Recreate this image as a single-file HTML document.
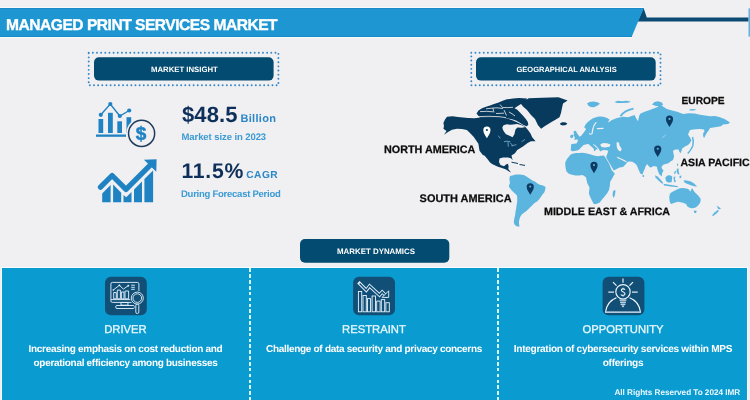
<!DOCTYPE html>
<html><head><meta charset="utf-8">
<style>
*{margin:0;padding:0;box-sizing:border-box}
html,body{width:750px;height:400px;overflow:hidden;background:#f0eff1;font-family:"Liberation Sans",sans-serif;text-rendering:geometricPrecision}
.t{position:absolute;white-space:nowrap;line-height:1;font-weight:bold}
.btn{position:absolute;background:#0d4a75;border-radius:5px}
.lab{color:#0c0c0c;-webkit-text-stroke:0.25px #0c0c0c}
#pb{position:absolute;left:1px;top:266.6px;width:747px;height:133.4px;background:#f6fdff}
#panel{position:absolute;left:2px;top:267.5px;width:745px;height:132px;background:#0a9bd0}
.col{position:absolute;top:0;height:131px;text-align:center;color:#fff}
.h{position:absolute;left:0;right:0;top:57px;font-size:11.25px;color:#e8f8ff;line-height:1;font-weight:normal;-webkit-text-stroke:0.3px #e8f8ff}
.d{position:absolute;left:0;right:0;top:75.1px;font-size:10px;letter-spacing:-0.3px;font-weight:bold;color:#fff;line-height:14px}
.dash{position:absolute;top:0;width:2px;height:132px;background:repeating-linear-gradient(to bottom,transparent 0,transparent 0.4px,#d8fbff 0.4px,#d8fbff 4px,transparent 4px,transparent 5.85px)}
svg{position:absolute;left:0;top:0}
</style></head><body>
<div id="wrap" style="position:absolute;left:0;top:0;width:750px;height:400px;will-change:transform">
<svg width="750" height="400" viewBox="0 0 750 400">
  <!-- header -->
  <rect x="0" y="7" width="644" height="1" fill="#f8fbfd"/>
  <rect x="0" y="37" width="632" height="1" fill="#f6fafd"/>
  <polygon points="643.6,8 646.8,17.6 748.5,17.6 748.5,21.4 637.6,21.4" fill="#0b4a72"/>
  <polygon points="0,8 643.8,8 631.6,37 0,37" fill="#1e96d2"/>
  <rect x="0" y="8" width="643.6" height="0.8" fill="#1a88c4"/>
  <rect x="0" y="36.2" width="632" height="0.8" fill="#1a88c4"/>
  <rect x="748.6" y="8.4" width="1.2" height="28.2" fill="#3aa6e0"/>
  <!-- dotted boxes -->
  <rect x="88.7" y="52.7" width="189.7" height="32.6" fill="none" stroke="#2f86c9" stroke-width="1.9" stroke-linecap="round" stroke-dasharray="0 4.15"/>
  <rect x="471.3" y="52.7" width="189.2" height="32.6" fill="none" stroke="#2f86c9" stroke-width="1.9" stroke-linecap="round" stroke-dasharray="0 4.15"/>
  <rect x="94" y="57.2" width="179.6" height="23.4" rx="5" fill="#034b70"/>
  <rect x="476" y="57.2" width="179.7" height="23.4" rx="5" fill="#034b70"/>
  <rect x="300" y="239" width="149.3" height="23.7" rx="5" fill="#034b70"/>

  <!-- icon 1: bar chart + dollar -->
  <g fill="#1f82c3">
    <rect x="96" y="134.5" width="30" height="2.3"/>
    <rect x="98.5" y="119" width="4.7" height="14"/>
    <rect x="108" y="112.8" width="4.8" height="20.2"/>
    <rect x="117.3" y="121.3" width="4.7" height="11.7"/>
    <rect x="126.5" y="117.2" width="4.7" height="15.8"/>
  </g>
  <polyline points="100.8,114.8 110.3,104 119.8,116 129.2,110.5" fill="none" stroke="#1f82c3" stroke-width="1.4"/>
  <g fill="#1f82c3"><circle cx="100.8" cy="114.8" r="2.1"/><circle cx="110.3" cy="104" r="2.1"/><circle cx="119.8" cy="116" r="2.1"/><circle cx="129.2" cy="110.5" r="2.1"/></g>
  <circle cx="141.6" cy="133.4" r="15.3" fill="#f0eff1"/>
  <circle cx="141.6" cy="133.4" r="13.05" fill="none" stroke="#1d3b5a" stroke-width="1.5"/>
  <text x="141.1" y="139.6" font-family="Liberation Sans" font-weight="bold" font-size="19" fill="#1f82c3" stroke="#1f82c3" stroke-width="0.5" text-anchor="middle">$</text>

  <!-- icon 2: growth -->
  <g fill="#1f82c3">
    <polygon points="102.2,193.5 110.6,185.1 110.6,202.3 102.2,202.3"/>
    <polygon points="113.1,184.6 121.2,192.7 121.2,202.3 113.1,202.3"/>
    <polygon points="123.5,195 126.2,197.3 131.5,192 131.5,202.3 123.5,202.3"/>
    <polygon points="134,189.5 142,181.5 142,202.3 134,202.3"/>
    <polygon points="144.4,179.1 153.1,170.4 153.1,202.3 144.4,202.3"/>
  </g>
  <polyline points="100.5,187.1 112.1,175.5 126,189.4 150.5,164.9" fill="none" stroke="#1f82c3" stroke-width="5.3" stroke-linecap="round" stroke-linejoin="round"/>
  <polygon points="143.9,159.7 156.6,159.3 156.3,171.8" fill="#1f82c3"/>

  <polygon points="443.4,123.0 445.0,119.5 447.0,116.7 452.6,116.3 458.0,117.0 463.0,117.5 468.0,118.0 474.5,118.2 480.0,117.5 488.0,117.2 496.0,117.3 503.0,117.8 508.0,118.8 513.0,120.5 517.0,122.3 521.0,124.3 525.0,126.5 528.0,130.0 530.5,133.5 532.2,137.2 535.6,141.3 531.0,141.2 527.6,143.0 523.0,146.4 517.2,149.9 515.0,153.3 511.5,155.6 512.6,160.2 511.0,158.2 508.0,157.6 503.0,157.6 499.5,158.5 499.0,162.0 500.5,165.0 504.0,166.2 506.0,164.6 508.0,163.8 508.6,166.5 508.3,169.0 511.0,172.4 509.4,171.8 506.0,169.6 502.0,168.0 498.0,166.8 493.0,164.5 491.0,163.3 489.9,162.2 487.0,158.5 485.3,156.5 484.1,155.3 483.0,155.3 479.5,150.7 478.4,143.8 473.8,136.9 469.5,132.5 466.9,130.0 462.0,129.0 457.0,128.8 452.0,129.8 448.0,132.0 444.0,134.8 446.5,131.0 443.4,128.8 444.0,126.0" fill="#083a5d" />
<polygon points="520.7,103.5 528.7,98.3 542.3,97.7 558.4,97.2 567.6,100.6 563.0,103.5 562.0,108.0 561.0,113.0 559.5,117.3 555.0,120.0 551.5,121.9 545.0,126.0 541.1,128.8 538.0,125.3 535.0,119.0 531.0,115.0 527.0,110.0 523.0,106.5" fill="#083a5d" />
<polygon points="476.5,113.5 478.5,110.5 482.0,108.3 486.0,106.8 490.0,105.5 494.0,104.0 498.0,102.8 501.0,101.5 504.0,100.3 507.0,99.3 513.0,98.5 519.0,98.0 527.0,98.5 526.0,101.0 521.0,104.0 517.0,106.5 514.5,108.2 517.0,109.5 520.0,112.5 523.5,116.2 526.0,119.3 527.8,122.0 528.3,125.0 526.5,126.2 523.0,124.8 519.5,122.5 516.0,120.5 512.0,119.3 508.0,118.5 500.0,118.0 490.0,117.8 480.0,117.8" fill="#083a5d" />
<path d="M477,116.6 L489,116.3 L499,116.7 L506,117.6" stroke="#f0eff1" stroke-width="0.8" fill="none"/>
<path d="M480,111.6 Q487,111 493,111.8" stroke="#f0eff1" stroke-width="0.8" fill="none"/>
<path d="M492.8,108 L494,112.5" stroke="#f0eff1" stroke-width="0.8" fill="none"/>
<path d="M486,108.8 Q492,108 497,107.8 L503,108.5" stroke="#f0eff1" stroke-width="0.8" fill="none"/>
<path d="M500,104.5 L502.5,107.5 M502.5,107.5 Q508,107.8 513,107.3" stroke="#f0eff1" stroke-width="0.8" fill="none"/>
<path d="M504,110 L506.5,115.5" stroke="#f0eff1" stroke-width="0.8" fill="none"/>
<path d="M496,113.5 L504,113.2" stroke="#f0eff1" stroke-width="0.8" fill="none"/>
<path d="M509,112 Q512,113.5 515,116" stroke="#f0eff1" stroke-width="0.8" fill="none"/>
<polygon points="502.3,127.5 503.5,125.3 506.9,124.3 510.0,124.8 513.0,124.5 517.0,124.0 521.0,125.0 525.5,127.0 522.0,127.8 517.5,127.5 515.5,129.5 515.0,131.5 514.5,134.0 512.6,137.2 509.0,135.5 506.0,134.2 504.6,132.6 503.0,130.0" fill="#f0eff1" />
<polygon points="560.0,123.5 562.0,122.3 565.0,122.3 567.3,123.5 566.0,125.0 562.5,125.4 560.5,124.8" fill="#083a5d" />
<polygon points="586.2,129.2 584.2,127.2 585.6,124.6 587.5,122.3 590.0,120.2 592.5,118.6 594.5,117.8 597.5,116.8 600.5,116.4 603.0,116.7 605.0,117.2 607.5,118.2 609.5,119.5 608.5,121.2 608.0,122.5 609.8,121.4 611.5,120.2 617.0,118.0 623.0,116.7 628.0,117.3 634.5,115.0 636.0,118.0 638.0,121.3 639.0,116.5 640.2,113.8 644.0,112.0 648.3,110.4 653.0,108.8 657.5,107.0 660.0,104.5 663.0,106.5 666.9,108.9 672.0,110.5 677.2,111.8 683.0,114.1 689.0,113.3 694.5,113.5 700.0,114.8 705.0,115.6 710.0,116.3 715.0,115.9 720.0,117.3 725.0,119.3 730.0,122.5 728.0,124.0 723.0,124.5 721.0,126.3 715.0,127.3 710.0,128.0 709.0,130.0 707.2,132.3 705.6,135.0 704.0,138.2 703.0,135.5 703.3,133.0 704.6,131.0 703.8,129.5 700.0,129.0 695.0,129.3 690.0,130.0 688.0,134.6 690.0,137.5 691.4,140.3 690.0,143.0 688.0,145.0 685.0,146.5 682.2,148.4 681.5,151.0 680.5,153.2 679.2,151.5 678.7,149.5 675.3,149.5 673.0,150.7 673.5,153.5 674.1,156.4 673.0,159.9 670.5,161.5 668.4,163.3 663.8,164.5 662.0,166.0 661.5,167.9 663.5,170.5 662.0,173.5 661.8,176.5 659.5,174.5 658.3,172.0 657.3,169.0 656.9,166.8 653.8,166.0 651.0,167.5 649.5,167.0 647.1,164.1 645.5,166.5 644.8,168.7 643.5,171.5 642.5,174.5 641.0,174.0 640.2,173.3 638.5,169.5 636.8,165.3 634.5,163.0 632.2,161.8 629.5,161.5 627.6,161.8 625.5,164.5 623.0,167.0 619.5,167.6 616.5,169.0 613.8,170.5 610.0,164.0 606.3,157.8 606.6,155.5 607.5,153.5 608.2,150.8 606.5,150.2 604.0,150.0 601.8,150.4 600.5,151.5 599.4,150.2 598.6,148.4 597.4,147.2 595.6,145.6 593.8,144.2 592.6,143.8 594.2,145.6 596.0,147.2 597.6,148.6 597.4,149.6 596.2,149.3 595.3,150.2 594.8,151.3 593.8,150.8 594.0,149.2 592.5,147.6 590.6,146.0 588.8,144.2 587.4,144.0 586.0,144.6 584.5,144.8 583.2,145.2 582.2,146.5 581.0,147.6 579.5,149.2 578.0,150.3 575.5,150.8 572.7,151.2 570.8,150.4 570.9,148.0 571.1,145.6 571.2,144.2 573.5,143.8 576.5,143.5 577.6,141.5 578.0,139.7 576.5,139.0 575.0,138.2 577.5,137.3 581.0,136.0 582.6,134.0 584.0,132.2 584.8,131.0 585.5,130.0" fill="#5cb5df" />
<polygon points="605.2,157.2 609.0,163.5 611.8,170.2 614.8,173.8 613.5,176.0 612.0,178.8 610.2,181.8 609.8,186.0 609.0,190.0 607.0,193.5 604.4,196.8 602.0,199.5 599.8,202.5 597.0,203.8 594.0,204.3 592.8,202.3 591.8,200.2 590.0,196.5 588.9,193.3 589.2,190.5 589.5,187.6 587.2,183.0 586.0,177.2 582.6,175.0 579.0,175.6 575.7,175.5 572.0,174.8 568.8,173.8 566.5,171.5 565.9,169.2 565.3,165.5 565.3,162.3 567.0,159.0 569.8,155.6 571.2,154.2 573.5,153.5 576.0,153.0 579.0,153.1 582.5,152.8 586.0,153.2 590.0,154.2 594.0,155.5 597.5,156.2 601.0,155.8 604.0,155.6" fill="#5cb5df" />
<polygon points="510.0,176.1 512.2,175.5 515.7,174.4 519.5,174.5 523.7,175.0 526.5,176.5 529.5,178.4 532.5,180.5 535.2,181.8 537.5,183.5 539.8,184.7 543.0,185.6 545.6,187.0 545.2,189.5 544.4,192.2 542.5,194.5 541.0,196.8 539.0,199.6 537.0,201.5 534.5,203.0 532.0,205.5 530.0,207.6 528.0,209.5 526.4,211.1 524.0,212.8 521.8,214.5 520.3,216.8 519.5,219.1 519.0,221.5 519.0,223.7 519.5,226.6 517.5,226.6 516.1,226.0 514.5,224.5 513.8,222.6 514.2,219.0 515.0,215.7 515.5,212.0 516.1,208.8 516.6,205.0 517.2,201.9 517.2,198.0 517.0,195.5 515.0,193.5 512.2,191.0 510.2,188.5 508.8,186.4 509.3,184.5 510.0,183.0 509.5,180.0 509.5,178.0" fill="#5cb5df" />
<polygon points="669.9,193.7 672.0,192.0 675.0,190.5 678.0,189.1 680.0,188.3 682.5,188.0 685.0,188.3 688.3,189.1 689.5,190.5 690.6,191.4 691.2,189.5 692.0,188.2 693.0,189.5 693.8,191.1 695.5,193.0 697.2,194.5 699.0,196.5 700.7,199.1 700.5,201.5 699.5,203.7 698.0,205.5 696.1,207.2 694.0,208.0 691.5,208.3 689.0,207.5 686.9,206.0 686.5,204.5 685.0,203.5 682.0,202.5 678.0,201.8 674.5,202.8 671.0,204.0 670.0,202.5 669.5,200.0 669.3,197.0" fill="#5cb5df" />
<polygon points="600.2,144.5 603.0,143.0 607.0,143.2 610.6,144.5 609.5,146.8 605.0,147.6 601.5,147.0" fill="#f0eff1" />
<polygon points="616.5,142.3 619.0,142.5 619.5,145.5 621.8,149.0 620.5,151.5 618.0,150.0 616.8,147.0" fill="#f0eff1" />
<path d="M596,122.6 Q593.5,125.5 593,128.5 Q592.4,131 592.2,133 M597.3,128.6 L603,128.4 M589.5,133.8 Q591,134.6 592.2,133.4" stroke="#f0eff1" stroke-width="1.2" fill="none" stroke-linecap="round"/>
<path d="M617.2,157.2 L622,159.5 L626.4,161.8" stroke="#f0eff1" stroke-width="1.2" fill="none"/>
<polygon points="574.0,131.0 576.0,130.8 576.6,132.6 577.8,134.2 579.0,136.0 579.4,137.8 578.2,139.0 575.5,139.8 574.0,139.4 575.0,138.0 574.2,136.6 573.4,135.0 574.2,133.5 573.4,132.2" fill="#5cb5df" />
<polygon points="570.3,135.5 572.2,134.4 573.3,135.6 573.0,137.6 571.0,138.3 570.2,137.0" fill="#5cb5df" />
<polygon points="587.0,103.6 589.5,102.0 593.5,101.5 597.5,102.3 600.0,103.8 597.5,105.6 594.0,107.3 590.5,107.0 588.3,105.6" fill="#5cb5df" />
<polygon points="614.5,102.0 618.0,100.8 622.0,101.2 626.0,100.7 631.0,101.5 628.0,102.8 622.0,102.9 617.0,103.0" fill="#5cb5df" />
<polygon points="652.0,104.5 654.5,102.0 658.0,101.3 662.0,102.6 663.0,105.0 660.0,106.2 656.0,106.0" fill="#5cb5df" />
<polygon points="689.0,109.8 692.0,109.0 696.5,109.5 694.0,110.6 690.0,110.6" fill="#5cb5df" />
<path d="M620.5,116.2 Q624,110.5 633.5,108.6" stroke="#5cb5df" stroke-width="1.9" fill="none"/>
<path d="M687.8,153.5 Q691,150 692.8,146 Q694,141 692.5,136.9" stroke="#5cb5df" stroke-width="1.5" fill="none"/>
<polygon points="613.0,191.5 614.5,189.8 615.5,191.0 614.8,195.5 613.5,198.0 612.6,195.0" fill="#5cb5df" />
<circle cx="643.3" cy="176" r="0.9" fill="#5cb5df"/>
<polygon points="655.0,175.3 657.5,176.5 660.0,179.0 663.0,182.5 662.5,184.0 659.0,181.0 655.5,177.5" fill="#5cb5df" />
<polygon points="663.5,183.8 668.0,184.5 673.0,185.2 678.0,186.3 677.5,187.3 671.0,186.6 664.0,185.5" fill="#5cb5df" />
<polygon points="665.3,177.5 667.5,175.5 670.0,175.3 672.2,176.5 672.0,179.5 671.5,182.2 668.0,182.5 666.0,181.0" fill="#5cb5df" />
<polygon points="673.5,177.0 675.5,176.5 674.8,179.0 676.0,181.5 674.5,182.5 673.8,180.0" fill="#5cb5df" />
<polygon points="676.8,169.0 678.5,168.3 678.7,171.5 679.5,174.8 677.8,174.0 676.5,171.5" fill="#5cb5df" />
<polygon points="677.2,163.5 678.2,163.8 678.0,166.0 677.0,165.8" fill="#5cb5df" />
<polygon points="674.5,171.5 676.0,170.8 675.6,173.5 674.2,174.2" fill="#5cb5df" />
<polygon points="679.5,176.0 681.5,175.5 681.0,178.0 679.6,178.3" fill="#5cb5df" />
<polygon points="683.4,180.2 686.5,180.5 690.3,181.3 693.5,183.0 697.2,186.5 694.0,186.2 691.0,185.2 687.5,184.0 684.5,182.5" fill="#5cb5df" />
<polygon points="693.8,210.6 696.7,210.8 696.0,213.0 694.3,213.0" fill="#5cb5df" />
<polygon points="716.5,205.5 718.0,206.5 720.8,208.2 720.0,209.3 718.2,209.0 717.4,207.3" fill="#5cb5df" />
<polygon points="718.0,209.8 718.8,211.0 716.5,213.5 713.2,216.0 712.0,215.2 714.5,212.5" fill="#5cb5df" />
<path d="M662.3,137.8 Q664,136.5 665.8,134.8" stroke="#a9d6ee" stroke-width="0.9" fill="none"/>
<path d="M504.3,141.6 Q507,140.6 510,141.6 M508,142 L508.3,146.3 M510.5,143 Q512,144 512.3,146 M512,145.6 L516,144.8 M498.5,136 L500,138" stroke="#6fa6c8" stroke-width="0.9" fill="none" stroke-linecap="round"/>
<path d="M521.4,141.8 L525,139.4" stroke="#6fa6c8" stroke-width="0.8" fill="none"/>
<path d="M511.5,162.2 L518,163.5 M519.5,164.5 L525,165.4" stroke="#083a5d" stroke-width="1" fill="none"/>
<g transform="translate(486.9,130.2)"><path d="M0,8 C-0.8,6 -3.6,3.4 -3.6,0 A3.6,3.6 0 1 1 3.6,0 C3.6,3.4 0.8,6 0,8 Z" fill="#ffffff"/><circle r="1.05" cy="-0.2" fill="#083a5d"/></g>
<g transform="translate(530.25,186.75)"><path d="M0,8 C-0.8,6 -3.6,3.4 -3.6,0 A3.6,3.6 0 1 1 3.6,0 C3.6,3.4 0.8,6 0,8 Z" fill="#0d3a62"/><circle r="1.05" cy="-0.2" fill="#5cb5df"/></g>
<g transform="translate(594,165.3)"><path d="M0,8 C-0.8,6 -3.6,3.4 -3.6,0 A3.6,3.6 0 1 1 3.6,0 C3.6,3.4 0.8,6 0,8 Z" fill="#0d3a62"/><circle r="1.05" cy="-0.2" fill="#5cb5df"/></g>
<g transform="translate(669.5,119.1)"><path d="M0,8 C-0.8,6 -3.6,3.4 -3.6,0 A3.6,3.6 0 1 1 3.6,0 C3.6,3.4 0.8,6 0,8 Z" fill="#0d3a62"/><circle r="1.05" cy="-0.2" fill="#5cb5df"/></g>
<g transform="translate(657.75,149)"><path d="M0,8 C-0.8,6 -3.6,3.4 -3.6,0 A3.6,3.6 0 1 1 3.6,0 C3.6,3.4 0.8,6 0,8 Z" fill="#0d3a62"/><circle r="1.05" cy="-0.2" fill="#5cb5df"/></g>
</svg>

<div class="t" style="left:6px;top:18px;font-size:15.6px;letter-spacing:-0.5px;color:#fff;-webkit-text-stroke:0.35px #fff">MANAGED PRINT SERVICES MARKET</div>
<div class="t" style="left:151px;top:66.3px;font-size:7.75px;color:#fff">MARKET INSIGHT</div>
<div class="t" style="left:516.5px;top:66.1px;font-size:7.5px;color:#fff">GEOGRAPHICAL ANALYSIS</div>
<div class="t" style="left:337px;top:247.9px;font-size:7.9px;color:#fff">MARKET DYNAMICS</div>

<div class="t" style="left:182px;top:103.6px;font-size:22px;letter-spacing:0.1px;color:#0d2f5a">$48.5</div>
<div class="t" style="left:240.5px;top:113.7px;font-size:11px;letter-spacing:0.3px;color:#2a86c8">Billion</div>
<div class="t" style="left:181.5px;top:132.9px;font-size:9.5px;letter-spacing:-0.08px;color:#3a9bd5">Market size in 2023</div>
<div class="t" style="left:181.5px;top:160.8px;font-size:21.2px;letter-spacing:0.72px;color:#0d2f5a">11.5%</div>
<div class="t" style="left:246.3px;top:170.9px;font-size:10.2px;letter-spacing:0.45px;color:#2a86c8">CAGR</div>
<div class="t" style="left:181px;top:189.5px;font-size:9.5px;letter-spacing:-0.25px;color:#3a9bd5">During Forecast Period</div>

<div class="t lab" style="left:384px;top:145.1px;font-size:10.8px">NORTH AMERICA</div>
<div class="t lab" style="left:419.6px;top:194.3px;font-size:10.95px">SOUTH AMERICA</div>
<div class="t lab" style="left:544px;top:206.8px;font-size:10.7px">MIDDLE EAST &amp; AFRICA</div>
<div class="t lab" style="left:681.5px;top:97.1px;font-size:10.2px">EUROPE</div>
<div class="t lab" style="left:680.5px;top:157.6px;font-size:10.55px">ASIA PACIFIC</div>

<div id="pb"></div>
<div id="panel">
  <div class="col" style="left:0;width:247px">
    <div class="h">DRIVER</div>
    <div class="d">Increasing emphasis on cost reduction and<br>operational efficiency among businesses</div>
  </div>
  <div class="dash" style="left:247px"></div>
  <div class="col" style="left:249px;width:246px">
    <div class="h">RESTRAINT</div>
    <div class="d">Challenge of data security and privacy concerns</div>
  </div>
  <div class="dash" style="left:495px"></div>
  <div class="col" style="left:497px;width:248px">
    <div class="h">OPPORTUNITY</div>
    <div class="d" style="font-size:10.1px;top:75.1px">Integration of cybersecurity services within MPS<br>offerings</div>
  </div>
  <div class="t" style="left:612.5px;top:121.1px;font-size:8.2px;letter-spacing:-0.04px;color:#eaf8ff">All Rights Reserved To 2024 IMR</div>
  <svg width="745" height="132" viewBox="2 267.5 745 132" style="left:0;top:0">
    <g fill="#114f77">
  <rect x="105" y="276.3" width="41.8" height="38.5" rx="6"/>
  <rect x="353.1" y="276.3" width="41.9" height="38.5" rx="6"/>
  <rect x="602.6" y="276.3" width="41.8" height="38.5" rx="6"/>
</g>
<g fill="none" stroke="#e8f4ff" stroke-width="0.9" stroke-linejoin="round">
  <!-- icon1 monitor -->
  <rect x="110.9" y="281.9" width="28" height="20" rx="1.5"/>
  <line x1="110.9" y1="299.1" x2="132" y2="299.1"/>
  <rect x="121" y="302" width="7" height="2.7"/>
  <rect x="115.7" y="305" width="18.8" height="3" rx="1.3"/>
  <rect x="113.7" y="292" width="2.6" height="6.3"/>
  <rect x="117.3" y="289.6" width="3.1" height="8.7"/>
  <rect x="121.4" y="291.5" width="2.6" height="6.8"/>
  <rect x="125" y="290.5" width="3.6" height="7.8"/>
  <polyline points="113.3,289.5 119.4,284.8 123.4,288.6 128.3,285.2"/>
  <line x1="131.2" y1="284.7" x2="134.8" y2="284.7"/>
  <line x1="131.2" y1="286.8" x2="134.8" y2="286.8"/>
  <line x1="131.2" y1="288.8" x2="134.8" y2="288.8"/>
</g>
<circle cx="137.3" cy="297.6" r="7.3" fill="#114f77"/>
<rect x="134.6" y="303" width="5.4" height="11" fill="#114f77"/>
<g fill="none" stroke="#e8f4ff" stroke-width="0.9">
  <circle cx="137.3" cy="297.6" r="6"/>
  <circle cx="137.3" cy="297.6" r="4.3"/>
  <rect x="135.8" y="303.6" width="3" height="9.4" rx="1.4"/>
</g>
<g fill="#e8f4ff"><circle cx="119.4" cy="284.8" r="0.9"/><circle cx="128.3" cy="285.2" r="0.9"/><circle cx="113.3" cy="289.5" r="0.8"/></g>

<!-- icon2 -->
<g fill="none" stroke="#e8f4ff" stroke-width="0.9">
  <rect x="358.4" y="291" width="3.3" height="20.3"/>
  <rect x="363" y="295" width="3.3" height="16.3"/>
  <rect x="367.5" y="298.1" width="3" height="13.2"/>
  <rect x="372.1" y="295.5" width="3.4" height="15.8"/>
  <rect x="376.7" y="300.6" width="3.4" height="10.7"/>
  <rect x="381.3" y="299.1" width="3.4" height="12.2"/>
  <rect x="385.9" y="302.2" width="3.4" height="9.1"/>
</g>
<polyline points="359.6,283 366.3,289.7 369.6,285.4 379.5,294.6 382.2,291.4 386.2,295.4" fill="none" stroke="#e8f4ff" stroke-width="3.4" stroke-linejoin="miter" stroke-linecap="square"/>
<polyline points="359.6,283 366.3,289.7 369.6,285.4 379.5,294.6 382.2,291.4 386.2,295.4" fill="none" stroke="#114f77" stroke-width="1.5" stroke-linejoin="miter" stroke-linecap="butt"/>
<polygon points="388.7,290.3 388.7,296.9 382.1,296.9" fill="#114f77" stroke="#e8f4ff" stroke-width="0.9" stroke-linejoin="miter"/>

<!-- icon3 -->
<g fill="none" stroke="#eef8ff" stroke-width="1.15" stroke-linecap="butt">
  <circle cx="623" cy="291.3" r="7.2"/>
  <line x1="623" y1="278.1" x2="623" y2="282.3"/>
  <line x1="613" y1="281.6" x2="616.5" y2="285.1"/>
  <line x1="633" y1="281.6" x2="629.5" y2="285.1"/>
  <line x1="608.3" y1="291.6" x2="614" y2="291.6"/>
  <line x1="632" y1="291.6" x2="637.7" y2="291.6"/>
  <line x1="619.6" y1="299.6" x2="626.4" y2="299.6"/>
  <line x1="620.1" y1="301.7" x2="625.9" y2="301.7"/>
  <line x1="620.6" y1="303.7" x2="625.4" y2="303.7"/>
  <path d="M605.6,311.3 C606.5,304 610.5,299.5 616.4,297.2"/>
  <path d="M629.6,297.2 C635.5,299.5 639.5,304 640.4,311.3"/>
</g>
<line x1="605" y1="311.6" x2="641" y2="311.6" stroke="#e8f4ff" stroke-width="1.4"/>
<polygon points="621.4,305 624.6,305 623,306.9" fill="#e8f4ff"/>
<path d="M624.9,289.2 C624.4,288.2 621.4,287.9 621.3,289.8 C621.2,291.4 624.9,291.1 625,293.3 C625.1,295.3 621.5,295.1 620.9,293.9 M623,287.3 L623,288.3 M623,295 L623,296" fill="none" stroke="#eef8ff" stroke-width="1.1"/>

  </svg>
</div>
</div>
</body></html>
